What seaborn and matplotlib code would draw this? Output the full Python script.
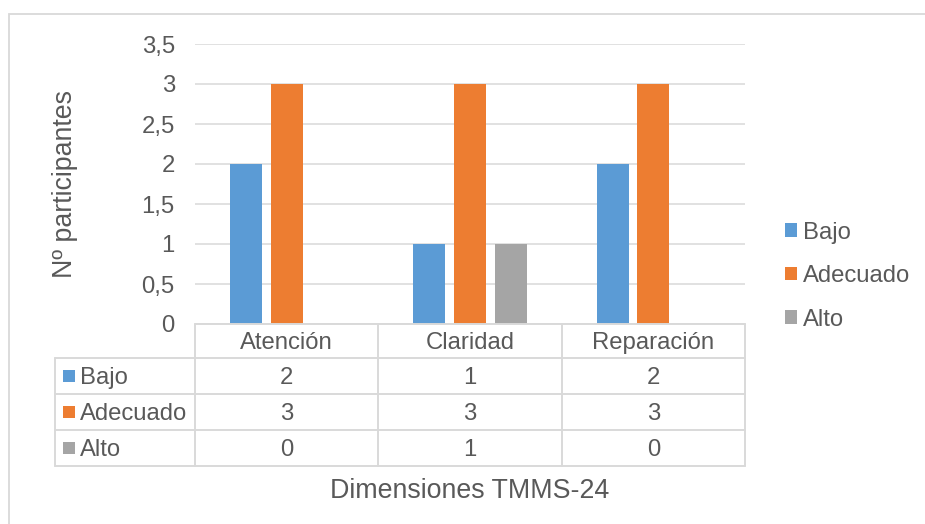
import numpy as np
import pandas as pd
import matplotlib
matplotlib.use("Agg")
import matplotlib.pyplot as plt
from matplotlib.patches import Rectangle, Patch
import seaborn as sns

# Datos del gráfico
categorias = ["Atención", "Claridad", "Reparación"]
niveles = ["Bajo", "Adecuado", "Alto"]
bajo = [2, 1, 2]
adecuado = [3, 3, 3]
alto = [0, 1, 0]
y_ticks = [0, 0.5, 1, 1.5, 2, 2.5, 3, 3.5]
titulo_x = "Dimensiones TMMS-24"
titulo_y = "Nº participantes"

colores = ["#5B9BD5", "#ED7D31", "#A5A5A5"]
texto = "#595959"
linea = "#D9D9D9"

series = [bajo, adecuado, alto]
df = pd.DataFrame({
    "Dimensión": categorias * len(niveles),
    "Nivel": [n for n in niveles for _ in categorias],
    "Participantes": bajo + adecuado + alto,
})

sns.set_style("white")
plt.rcParams["font.family"] = ["Liberation Sans", "DejaVu Sans"]

W, H = 925, 524
fig = plt.figure(figsize=(W / 100, H / 100), dpi=100)


def caja(x0, y0, x1, y1):
    """Pixel box (origin top-left) -> figure fraction rect."""
    return [x0 / W, 1 - y1 / H, (x1 - x0) / W, (y1 - y0) / H]


PX0, PY0, PX1, PY1 = 195, 44, 745, 324
ax = fig.add_axes(caja(PX0, PY0, PX1, PY1))
sns.barplot(data=df, x="Dimensión", y="Participantes", hue="Nivel",
            hue_order=niveles, order=categorias, palette=colores,
            saturation=1, width=0.663, gap=0.21, errorbar=None,
            linewidth=0, legend=False, ax=ax)

fs = 17.2
fs_tit = 19.3

ax.set_xlim(-0.5, len(categorias) - 0.5)
ax.set_ylim(y_ticks[0], y_ticks[-1])
ax.set_yticks(y_ticks)
ax.set_yticklabels([f"{v:g}".replace(".", ",") for v in y_ticks])
ax.set_xticks([])
ax.set_xlabel("")
ax.set_ylabel("")
ax.yaxis.grid(True, color=linea, lw=1.1)
ax.set_axisbelow(True)
for s in ax.spines.values():
    s.set_visible(False)
ax.tick_params(axis="y", length=0, pad=14.5, labelsize=fs, labelcolor=texto)


# Tabla de datos bajo el eje (en coordenadas de ejes)
def fx(p):
    return (p - PX0) / (PX1 - PX0)


def fy(p):
    return (PY1 - p) / (PY1 - PY0)


kw = dict(transform=ax.transAxes, clip_on=False, color=linea, lw=1.4)
T_LEFT, T_HEAD, T_BOT = 55, 358, 466
filas_y = [358, 394, 430, 466]
n = len(categorias)
col_x = [i / n for i in range(n + 1)]
baja = 2  # ligero descenso del texto dentro de cada celda

ax.plot([0, 1], [fy(PY1), fy(PY1)], **kw)
for yy in filas_y:
    ax.plot([fx(T_LEFT), 1], [fy(yy), fy(yy)], **kw)
for xx in col_x:
    ax.plot([xx, xx], [fy(PY1), fy(T_BOT)], **kw)
ax.plot([fx(T_LEFT), fx(T_LEFT)], [fy(T_HEAD), fy(T_BOT)], **kw)

for i, cat in enumerate(categorias):
    ax.text((i + 0.5) / n, fy((PY1 + T_HEAD) / 2 + baja), cat,
            transform=ax.transAxes, ha="center", va="center",
            fontsize=fs, color=texto)

for r, (nivel, vals, col) in enumerate(zip(niveles, series, colores)):
    ym = (filas_y[r] + filas_y[r + 1]) / 2
    yc = fy(ym)
    yt = fy(ym + baja)
    ax.add_patch(Rectangle((fx(63), yc - 6 / (PY1 - PY0)), 12 / (PX1 - PX0),
                           12 / (PY1 - PY0), transform=ax.transAxes,
                           clip_on=False, color=col, lw=0))
    ax.text(fx(80), yt, nivel, transform=ax.transAxes, ha="left", va="center",
            fontsize=fs, color=texto)
    for i, v in enumerate(vals):
        ax.text((i + 0.5) / n, yt, f"{v:g}", transform=ax.transAxes,
                ha="center", va="center", fontsize=fs, color=texto)

# Títulos de ejes
fig.text((PX0 + PX1) / 2 / W, 1 - 491 / H, titulo_x, ha="center", va="center",
         fontsize=fs_tit, color=texto)
fig.text(65 / W, 1 - (PY0 + PY1) / 2 / H, titulo_y, ha="center", va="center",
         rotation=90, fontsize=fs_tit, color=texto)

# Leyenda
handles = [Patch(facecolor=c, edgecolor="none") for c in colores]
fig.legend(handles, niveles, loc="center left",
           bbox_to_anchor=(785 / W, 1 - 276 / H), frameon=False,
           fontsize=fs, labelcolor=texto, handlelength=0.5, handleheight=0.5,
           handletextpad=0.25, labelspacing=0.9, borderpad=0, borderaxespad=0)

# Borde del área del gráfico
fig.patches.append(Rectangle((9 / W, -0.1), 1.2, 1 - 14 / H + 0.1,
                             transform=fig.transFigure, fill=False,
                             ec=linea, lw=1.3))

fig.savefig("out.png", dpi=100, facecolor="white")
